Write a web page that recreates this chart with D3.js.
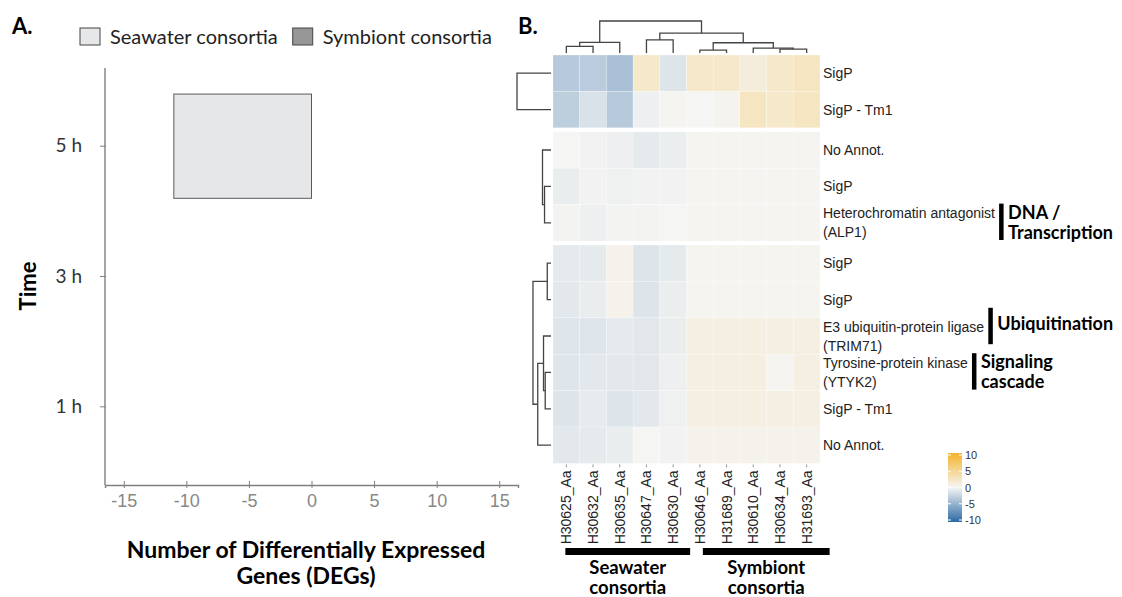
<!DOCTYPE html>
<html>
<head>
<meta charset="utf-8">
<script src="https://cdn.jsdelivr.net/npm/d3@7"></script>
<style>
body { margin: 0; background: #fff; }
svg text { font-family: Lato, "Open Sans", sans-serif; }
svg .arial text, svg text.arial { font-family: "Liberation Sans", Arial, sans-serif; }
</style>
</head>
<body>
<div id="chart-area"></div>
<script>

// ---- panel A data
var times = ["1 h", "3 h", "5 h"]
var seawaterDEGs = [0, 0, -11]
var symbiontDEGs = [0, 0, 0]
var degTicks = [-15, -10, -5, 0, 5, 10, 15]
var groupNames = ["Seawater consortia", "Symbiont consortia"]

// ---- panel B data
var samples = ["H30625_Aa", "H30632_Aa", "H30635_Aa", "H30647_Aa", "H30630_Aa",
	"H30646_Aa", "H31689_Aa", "H30610_Aa", "H30634_Aa", "H31693_Aa"]
var sampleGroups = [["Seawater", "consortia"], ["Symbiont", "consortia"]]
var sampleGroupOf = [0, 0, 0, 0, 0, 1, 1, 1, 1, 1]

var rowLabels = [["SigP"], ["SigP - Tm1"],
	["No Annot."], ["SigP"], ["Heterochromatin antagonist", "(ALP1)"],
	["SigP"], ["SigP"], ["E3 ubiquitin-protein ligase", "(TRIM71)"],
	["Tyrosine-protein kinase", "(YTYK2)"], ["SigP - Tm1"], ["No Annot."]]
var rowBlock = [0, 0, 1, 1, 1, 2, 2, 2, 2, 2, 2]

// log2 fold change per gene (rows) and sample (columns)
var expr = [
	[-3.1, -3.0, -3.8,  2.0, -1.2,  2.0,  2.0,  1.2,  2.0,  2.5],
	[-2.8, -1.4, -3.1, -0.4,  0.1,  0.0,  0.3,  2.5,  2.0,  2.5],
	[ 0.0, -0.2, -0.4, -0.8, -0.5,  0.1,  0.1,  0.1,  0.1,  0.1],
	[-0.6, -0.2, -0.3, -0.2, -0.2,  0.1,  0.1,  0.1,  0.1,  0.1],
	[-0.1, -0.4, -0.1, -0.1,  0.0,  0.1,  0.1,  0.1,  0.1,  0.1],
	[-0.8, -0.8,  0.4, -1.2, -0.8,  0.2,  0.2,  0.2,  0.2,  0.2],
	[-0.9, -0.6,  0.4, -1.2, -0.5,  0.2,  0.2,  0.2,  0.2,  0.2],
	[-1.1, -1.1, -0.8, -1.0, -0.6,  0.9,  0.9,  0.9,  0.9,  0.9],
	[-1.1, -0.9, -0.9, -1.0, -0.4,  0.9,  0.9,  0.9,  0.1,  0.9],
	[-1.2, -0.7, -1.2, -0.9, -0.3,  0.9,  0.9,  0.9,  0.9,  0.9],
	[-0.9, -0.8, -0.6,  0.0, -0.2,  0.4,  0.4,  0.4,  0.4,  0.4]
]

// hclust style merges: negative = leaf (1-based), positive = earlier merge, then height
var colMerge = [
	[-1, -2, 2.1], [1, -3, 3.3], [-4, -5, 4.1], [-6, -7, 0.9], [-9, -10, 1.2],
	[-8, 5, 1.5], [4, 6, 3.2], [3, 7, 6.2], [2, 8, 10]
]
// one tree per row block, leaves numbered inside the block
var rowMerge = [
	[[-1, -2, 10]],
	[[-2, -3, 1.9], [-1, 1, 2.5]],
	[[-1, -2, 1.1], [-4, -5, 1.7], [-3, 2, 2.2], [3, -6, 3.9], [1, 4, 5.3]]
]

var annotations = [
	{row: 4, text: ["DNA /", "Transcription"]},
	{row: 7, text: ["Ubiquitination"]},
	{row: 8, text: ["Signaling", "cascade"]}
]
var legendTicks = [10, 5, 0, -5, -10]

// ------------------------------------------------------------
var canvasWidth = 1122
var canvasHeight = 597

var svg = d3.select("#chart-area")
	.append("svg")
	.attr("width", canvasWidth)
	.attr("height", canvasHeight)

var axisGrey = "#7f7f7f"

// ===================== panel A =====================
svg.append("text")
	.attr("x", 12).attr("y", 34)
	.attr("font-size", "22px").attr("font-weight", "bold")
	.text("A.")

var plotA = {left: 105, right: 518, top: 68, bottom: 485}

var xA = d3.scaleLinear()
	.domain([-16.5, 16.5])
	.range([plotA.left, plotA.right])

var yA = d3.scaleBand()
	.domain(times.slice().reverse())
	.range([plotA.top, plotA.bottom])
	.paddingInner(0.2)
	.paddingOuter(0.2)

var xAxisA = svg.append("g")
	.attr("class", "arial")
	.attr("transform", "translate(0," + plotA.bottom + ")")
	.call(d3.axisBottom(xA).tickValues(degTicks)
		.tickFormat(function(d) { return String(d) })
		.tickSizeOuter(0).tickSize(3).tickPadding(6))
xAxisA.select(".domain").attr("stroke", axisGrey).attr("stroke-width", 1.4)
xAxisA.selectAll(".tick line").attr("y1", -4).attr("y2", 3).attr("stroke", axisGrey)
xAxisA.selectAll(".tick text").attr("fill", "#888").attr("font-size", "18px")

var yAxisA = svg.append("g")
	.attr("transform", "translate(" + plotA.left + ",0)")
	.call(d3.axisLeft(yA).tickSizeOuter(0).tickSize(5).tickPadding(18))
yAxisA.select(".domain").attr("stroke", axisGrey).attr("stroke-width", 1.4)
	.attr("d", "M0," + plotA.top + "V" + plotA.bottom)
yAxisA.selectAll(".tick line").attr("x2", -5).attr("x1", 1).attr("stroke", axisGrey)
yAxisA.selectAll(".tick text").attr("fill", "#333").attr("font-size", "19px")

// bars (seawater negative side, symbiont positive side)
var barsA = svg.append("g")
times.forEach(function(t, i) {
	[seawaterDEGs[i], symbiontDEGs[i]].forEach(function(v, g) {
		if (v === 0) return
		barsA.append("rect")
			.attr("x", xA(Math.min(0, v)))
			.attr("y", yA(t))
			.attr("width", Math.abs(xA(v) - xA(0)))
			.attr("height", yA.bandwidth())
			.attr("fill", g === 0 ? "#e6e7e8" : "#969696")
			.attr("stroke", "#5a5a5a")
			.attr("stroke-width", 1)
	})
})

// legend
var legA = svg.append("g")
var lx = 80
groupNames.forEach(function(name, g) {
	legA.append("rect")
		.attr("x", lx).attr("y", 28)
		.attr("width", 20).attr("height", 17)
		.attr("fill", g === 0 ? "#e6e7e8" : "#969696")
		.attr("stroke", "#444").attr("stroke-width", 1)
	var t = legA.append("text")
		.attr("x", lx + 30).attr("y", 44)
		.attr("font-size", "20px").attr("fill", "#222")
		.text(name)
	lx = lx + 30 + t.node().getComputedTextLength() + 15
})

svg.append("text")
	.attr("transform", "translate(36,286) rotate(-90)")
	.attr("text-anchor", "middle")
	.attr("font-size", "22px").attr("font-weight", "bold")
	.text("Time")

svg.append("text")
	.attr("x", 306).attr("y", 558)
	.attr("text-anchor", "middle")
	.attr("font-size", "23px").attr("font-weight", "bold")
	.selectAll("tspan")
	.data(["Number of Differentially Expressed", "Genes (DEGs)"])
	.enter().append("tspan")
		.attr("x", 306)
		.attr("dy", function(d, i) { return i ? 26 : 0 })
		.text(function(d) { return d })

// ===================== panel B =====================
svg.append("text")
	.attr("x", 518).attr("y", 34)
	.attr("font-size", "22px").attr("font-weight", "bold")
	.text("B.")

var hm = {left: 553, right: 820, top: 55, rowH: 36.4, gap: 4}

var xB = d3.scaleBand()
	.domain(samples)
	.range([hm.left, hm.right])

function rowTop(i) { return hm.top + i * hm.rowH + rowBlock[i] * hm.gap }

var color = d3.scaleLinear()
	.domain([-10, 0, 10])
	.range(["#2c6aa6", "#f5f5f3", "#f4b42c"])

var cells = []
expr.forEach(function(row, r) {
	row.forEach(function(v, c) { cells.push({r: r, c: c, v: v}) })
})

svg.append("g")
	.selectAll("rect")
	.data(cells)
	.enter().append("rect")
		.attr("x", function(d) { return xB(samples[d.c]) })
		.attr("y", function(d) { return rowTop(d.r) })
		.attr("width", xB.bandwidth())
		.attr("height", hm.rowH)
		.attr("fill", function(d) { return color(d.v) })
		.attr("stroke", "#fff").attr("stroke-width", 0.4).attr("stroke-opacity", 0.6)

// dendrograms
function drawTree(g, merges, leafPos, hPos, vertical) {
	var nodes = []
	function get(k) {
		if (k < 0) return {p: leafPos(-k - 1), h: 0}
		return nodes[k - 1]
	}
	merges.forEach(function(m) {
		var a = get(m[0]), b = get(m[1])
		var pts
		if (vertical) {
			pts = [[a.p, hPos(a.h)], [a.p, hPos(m[2])], [b.p, hPos(m[2])], [b.p, hPos(b.h)]]
		} else {
			pts = [[hPos(a.h), a.p], [hPos(m[2]), a.p], [hPos(m[2]), b.p], [hPos(b.h), b.p]]
		}
		g.append("path")
			.attr("d", d3.line()(pts))
			.attr("fill", "none")
			.attr("stroke", "#444")
			.attr("stroke-width", 1.3)
		nodes.push({p: (a.p + b.p) / 2, h: m[2]})
	})
}

var colH = d3.scaleLinear().domain([0, 10]).range([hm.top - 2, 21])
drawTree(svg.append("g"), colMerge,
	function(i) { return xB(samples[i]) + xB.bandwidth() / 2 }, colH, true)

var rowH = d3.scaleLinear().domain([0, 10]).range([hm.left - 2, 517])
rowMerge.forEach(function(merges, b) {
	var members = d3.range(rowBlock.length).filter(function(i) { return rowBlock[i] === b })
	drawTree(svg.append("g"), merges,
		function(i) { return rowTop(members[i]) + hm.rowH / 2 }, rowH, false)
})

// row labels
var rowLab = svg.append("g").attr("class", "arial")
var labelEnds = []
rowLabels.forEach(function(lines, r) {
	var cy = rowTop(r) + hm.rowH / 2
	var t = rowLab.append("text")
		.attr("x", hm.right + 3)
		.attr("y", cy - (lines.length - 1) * 9.5 + 5)
		.attr("font-size", "14px").attr("fill", "#222")
	lines.forEach(function(l, k) {
		t.append("tspan").attr("x", hm.right + 3).attr("dy", k ? 19 : 0).text(l)
	})
	labelEnds.push(hm.right + 3 + t.node().getBBox().width)
})

// functional annotation bars
var annNudge = [0, -9, 0]
annotations.forEach(function(a, i) {
	var top = rowTop(a.row) + annNudge[i]
	var bx = labelEnds[a.row] + 4
	svg.append("rect")
		.attr("x", bx).attr("y", top - 1)
		.attr("width", 4.5).attr("height", hm.rowH)
		.attr("fill", "#000")
	var t = svg.append("text")
		.attr("x", bx + 9)
		.attr("y", top + (a.text.length > 1 ? 14 : 21))
		.attr("font-size", "18px").attr("font-weight", "bold")
	a.text.forEach(function(l, k) {
		t.append("tspan").attr("x", bx + 9).attr("dy", k ? 20 : 0).text(l)
	})
})

// column labels
var hmBottom = rowTop(rowBlock.length - 1) + hm.rowH
var colLab = svg.append("g").attr("class", "arial")
samples.forEach(function(s) {
	var cx = xB(s) + xB.bandwidth() / 2
	colLab.append("line")
		.attr("x1", cx).attr("x2", cx)
		.attr("y1", hmBottom + 1).attr("y2", hmBottom + 4)
		.attr("stroke", "#999")
	colLab.append("text")
		.attr("transform", "translate(" + (cx + 5) + "," + (hmBottom + 7) + ") rotate(-90)")
		.attr("text-anchor", "end")
		.attr("font-size", "14px").attr("fill", "#222")
		.text(s)
})

// sample group bars
sampleGroups.forEach(function(lines, g) {
	var idx = d3.range(samples.length).filter(function(i) { return sampleGroupOf[i] === g })
	var x0 = xB(samples[idx[0]]) + xB.bandwidth() / 2 - 1 + g * 4
	var x1 = xB(samples[idx[idx.length - 1]]) + xB.bandwidth() / 2 + 17 + g * 6
	svg.append("rect")
		.attr("x", x0).attr("y", 548)
		.attr("width", x1 - x0).attr("height", 7)
		.attr("fill", "#000")
	var t = svg.append("text")
		.attr("text-anchor", "middle")
		.attr("font-size", "18.5px").attr("font-weight", "bold")
	lines.forEach(function(l, k) {
		t.append("tspan").attr("x", (x0 + x1) / 2).attr("y", 574 + k * 20).text(l)
	})
})

// colour key
var legY = d3.scaleLinear().domain([-10, 10]).range([520, 455])
var defs = svg.append("defs")
var grad = defs.append("linearGradient")
	.attr("id", "ramp").attr("x1", 0).attr("x2", 0).attr("y1", 1).attr("y2", 0)
d3.range(-10, 10.1, 2.5).forEach(function(v) {
	grad.append("stop")
		.attr("offset", (v + 10) / 20)
		.attr("stop-color", color(v))
})
svg.append("rect")
	.attr("x", 948).attr("y", legY(10) - 2)
	.attr("width", 14).attr("height", legY(-10) - legY(10) + 4)
	.attr("fill", "url(#ramp)")
var legG = svg.append("g").attr("class", "arial")
legendTicks.forEach(function(v) {
	[[948, 951], [959, 962]].forEach(function(s) {
		legG.append("line")
			.attr("x1", s[0]).attr("x2", s[1])
			.attr("y1", legY(v)).attr("y2", legY(v))
			.attr("stroke", "#fff").attr("stroke-width", 1)
	})
	legG.append("text")
		.attr("x", 965).attr("y", legY(v) + 4)
		.attr("font-size", "11px").attr("fill", "#333")
		.text(v)
})

</script>
</body>
</html>
